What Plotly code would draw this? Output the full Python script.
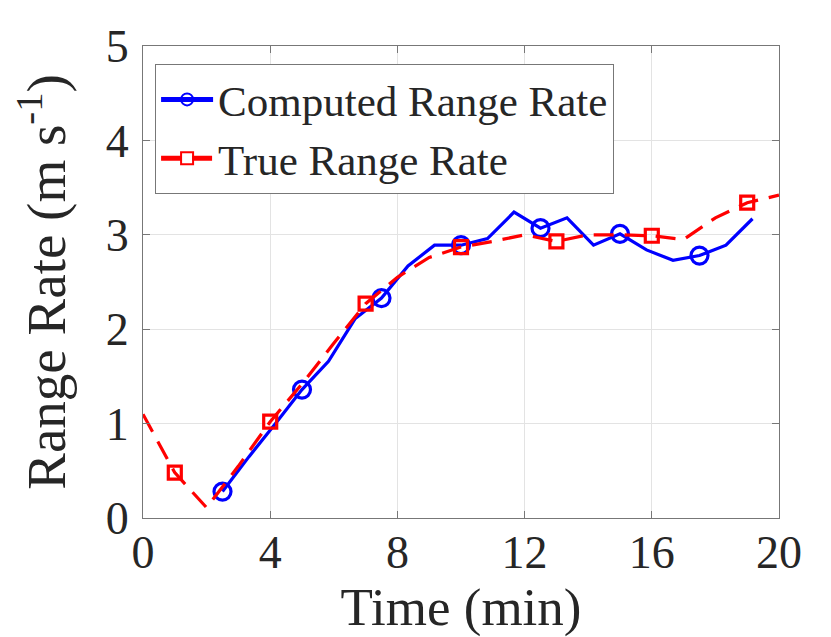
import plotly.graph_objects as go

# dati
t_computed = [2.5, 3.333, 4.167, 5.0, 5.833, 6.667, 7.5, 8.333, 9.167, 10.0, 10.833,
              11.667, 12.5, 13.333, 14.167, 15.0, 15.833, 16.667, 17.5, 18.333, 19.167]
v_computed = [0.28, 0.65, 1.00, 1.36, 1.66, 2.11, 2.33, 2.67, 2.89, 2.89, 2.96,
              3.24, 3.07, 3.18, 2.89, 3.01, 2.84, 2.73, 2.78, 2.89, 3.17]

t_true = [0, 1, 2, 3, 4, 5, 6, 7, 8, 9, 10, 11, 12, 13, 14, 15, 16, 17, 18, 19, 20]
v_true = [1.10, 0.48, 0.11, 0.55, 1.02, 1.42, 1.85, 2.27, 2.55, 2.76, 2.87,
          2.93, 3.00, 2.93, 3.00, 3.00, 2.99, 2.95, 3.18, 3.34, 3.42]

x_ticks = [0, 4, 8, 12, 16, 20]
y_ticks = [0, 1, 2, 3, 4, 5]

FONT = "Liberation Serif"
TEXT = "#262626"
AXIS = "#777777"

# un marker ogni 3 punti (come MarkerIndices in MATLAB)
size_computed = [17 if i % 3 == 0 else 0 for i in range(len(t_computed))]
size_true = [13 if i % 3 == 1 else 0 for i in range(len(t_true))]

fig = go.Figure()

fig.add_trace(go.Scatter(
    x=t_computed, y=v_computed,
    mode="lines+markers",
    name="Computed Range Rate",
    line=dict(color="#0000ff", width=3.2),
    marker=dict(symbol="circle-open", size=size_computed, color="#0000ff", opacity=1,
                line=dict(width=3.2, color="#0000ff")),
))

fig.add_trace(go.Scatter(
    x=t_true, y=v_true,
    mode="lines+markers",
    name="True Range Rate",
    line=dict(color="#ff0000", width=3.2, dash="20px,11px"),
    marker=dict(symbol="square-open", size=size_true, color="#ff0000", opacity=1,
                line=dict(width=3.2, color="#ff0000")),
))

axis_common = dict(
    showgrid=True,
    gridcolor="#e3e3e3",
    gridwidth=1,
    zeroline=False,
    showline=True,
    linecolor=AXIS,
    linewidth=1,
    mirror="ticks",
    ticks="inside",
    ticklen=7,
    tickcolor=AXIS,
    automargin=False,
    tickfont=dict(family=FONT, size=46, color=TEXT),
)

# la pagina ha 8px di margine del body: i margini lo compensano
fig.update_layout(
    width=831,
    height=637,
    margin=dict(l=135, r=60, t=38, b=127),
    paper_bgcolor="white",
    plot_bgcolor="white",
    font=dict(family=FONT, color=TEXT),
    xaxis=dict(
        range=[0, 20],
        tickmode="array",
        tickvals=x_ticks,
        ticklabelstandoff=-6,
        title=dict(text="Time (min)", font=dict(family=FONT, size=53, color=TEXT), standoff=2),
        **axis_common,
    ),
    yaxis=dict(
        range=[0, 5],
        tickmode="array",
        tickvals=y_ticks,
        ticklabelstandoff=4,
        title=dict(text="Range Rate (m s<sup>-1</sup>)", font=dict(family=FONT, size=55, color=TEXT),
                   standoff=22),
        **axis_common,
    ),
    legend=dict(
        x=0.019, y=0.962,
        xanchor="left", yanchor="top",
        bgcolor="white",
        bordercolor=AXIS,
        borderwidth=1,
        font=dict(family=FONT, size=43, color=TEXT),
        itemsizing="constant",
        itemwidth=52,
        tracegroupgap=0,
    ),
    showlegend=True,
)

fig.write_html("out.html")
